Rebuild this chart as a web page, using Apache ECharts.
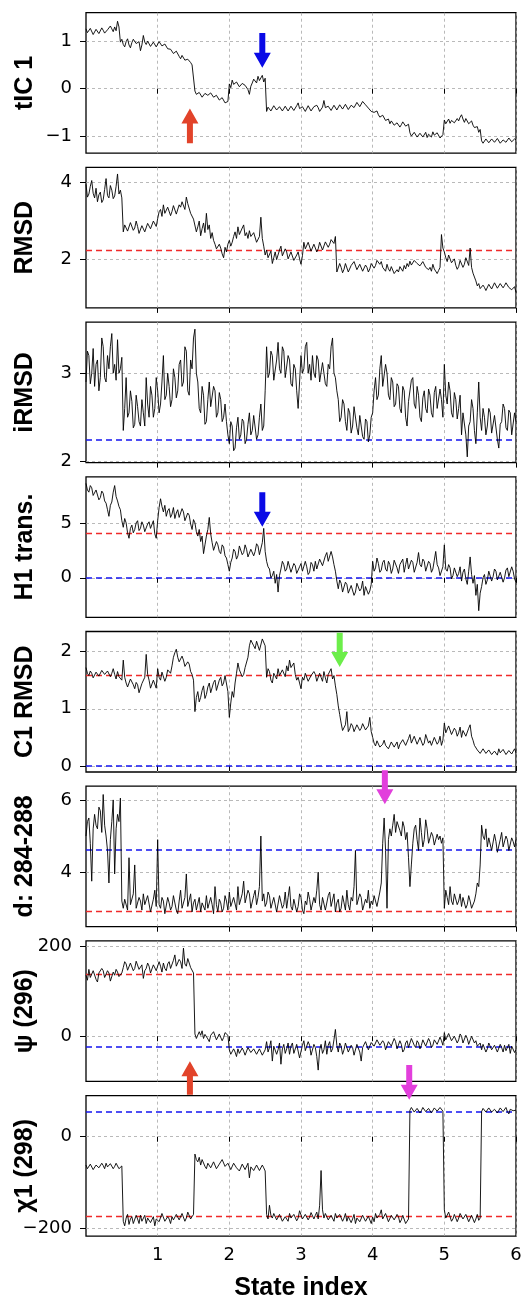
<!DOCTYPE html>
<html><head><meta charset="utf-8">
<script src="https://cdn.jsdelivr.net/npm/echarts@6/dist/echarts.min.js"></script>
<style>html,body{margin:0;padding:0;background:#fff}#c{width:523px;height:1304px}</style>
</head><body><div id="c"></div>
<script>
// ---- data (sampled every 0.02 state-index units, x = 0 .. 6) ----
const X_STEP = 0.02;
const xTickValues = [1, 2, 3, 4, 5, 6];
const panelNames = ['tIC 1', 'RMSD', 'iRMSD', 'H1 trans.', 'C1 RMSD', 'd: 284-288', 'ψ (296)', 'χ1 (298)'];
const xAxisTitle = 'State index';

const tic1 = [
 1.26,1.18,1.2,1.27,1.24,1.14,1.17,1.25,1.22,1.16,1.19,1.28,1.23,1.17,1.15,1.24,1.21,1.32,1.26,1.2,
 1.3,1.22,1.42,1.3,0.98,1.04,0.93,0.88,0.99,1.05,0.92,0.86,0.97,1.04,1.03,0.95,0.94,0.99,0.8,0.92,
 1.12,0.98,0.93,1.0,0.97,0.89,0.9,0.98,0.95,0.88,0.92,0.99,0.97,0.9,0.88,0.94,0.92,0.84,0.86,0.83,
 0.8,0.74,0.71,0.79,0.77,0.68,0.63,0.7,0.68,0.6,0.57,0.62,0.6,0.55,0.5,0.54,-0.05,-0.12,-0.15,-0.08,
 -0.12,-0.18,-0.2,-0.1,-0.08,-0.14,-0.16,-0.09,-0.1,-0.18,-0.22,-0.14,-0.15,-0.24,-0.25,-0.19,-0.2,-0.3,-0.33,-0.27,
 0.1,0.02,0.18,0.09,0.06,0.14,0.13,0.04,0.03,0.11,0.15,0.07,0.08,-0.02,-0.12,0.05,0.12,0.2,0.18,0.12,
 0.26,0.17,0.2,0.28,0.14,0.22,-0.48,-0.39,-0.4,-0.47,-0.44,-0.36,-0.37,-0.45,-0.46,-0.38,-0.41,-0.47,-0.43,-0.37,
 -0.4,-0.47,-0.45,-0.37,-0.38,-0.46,-0.43,-0.36,-0.3,-0.42,-0.46,-0.38,-0.41,-0.48,-0.44,-0.36,-0.39,-0.47,-0.45,-0.38,
 -0.42,-0.35,-0.4,-0.48,-0.47,-0.39,-0.25,-0.4,-0.44,-0.37,-0.38,-0.46,-0.43,-0.35,-0.37,-0.45,-0.42,-0.34,-0.35,-0.43,
 -0.4,-0.33,-0.36,-0.44,-0.42,-0.35,-0.34,-0.4,-0.37,-0.29,-0.3,-0.38,-0.35,-0.27,-0.25,-0.34,-0.33,-0.41,-0.4,-0.48,
 -0.45,-0.5,-0.53,-0.47,-0.55,-0.6,-0.62,-0.56,-0.6,-0.67,-0.7,-0.64,-0.74,-0.68,-0.69,-0.77,-0.78,-0.72,-0.75,-0.81,
 -0.76,-0.7,-0.72,-0.79,-0.8,-0.75,-0.93,-1.0,-0.99,-0.92,-0.94,-1.02,-1.01,-0.94,-0.95,-1.02,-0.98,-0.92,-1.03,-0.96,
 -0.96,-1.02,-0.91,-0.98,-1.0,-0.93,-0.96,-1.04,-1.03,-0.97,-0.66,-0.74,-0.7,-0.64,-0.73,-0.67,-0.65,-0.72,-0.7,-0.63,
 -0.68,-0.6,-0.55,-0.64,-0.71,-0.63,-0.66,-0.74,-0.72,-0.68,-0.77,-0.82,-0.85,-0.8,-0.92,-0.86,-1.1,-1.15,-1.12,-1.06,
 -1.08,-1.14,-1.13,-1.06,-1.06,-1.13,-1.12,-1.05,-1.09,-1.15,-1.14,-1.08,-1.07,-1.13,-1.1,-1.04,-1.05,-1.12,-1.11,-1.06,
 -1.08];
const rmsd = [
 3.95,3.62,3.7,3.9,4.05,3.72,3.6,3.85,3.5,3.68,3.75,3.48,3.55,3.82,4.1,3.66,3.6,3.92,3.8,3.58,
 3.65,3.9,4.22,3.7,3.8,3.6,2.72,2.9,2.95,2.74,2.78,2.96,2.97,2.76,2.82,3.0,2.86,2.68,2.7,2.88,
 2.9,2.72,2.76,2.94,2.93,2.8,2.84,3.0,2.98,2.86,3.06,3.24,3.3,3.12,3.42,3.2,3.18,3.36,3.32,3.14,
 3.25,3.4,3.38,3.18,3.2,3.42,3.36,3.5,3.45,3.3,3.62,3.45,3.4,3.2,3.25,3.05,3.1,2.72,2.85,3.0,
 2.62,2.8,2.95,2.7,3.2,2.78,2.9,2.55,2.7,2.5,2.4,2.28,2.25,2.4,2.3,2.15,2.05,2.32,2.2,2.4,
 2.5,2.35,2.45,2.6,2.72,2.55,2.85,2.65,2.6,2.82,2.9,2.62,2.7,2.55,2.75,2.6,2.55,2.7,2.65,2.45,
 2.5,2.6,3.1,2.55,2.35,2.12,2.25,2.05,2.1,2.22,1.9,2.05,2.2,2.0,2.05,2.25,2.35,2.1,2.15,2.28,
 2.2,2.02,2.05,2.2,2.15,1.98,2.0,2.12,2.2,2.02,1.88,2.1,2.45,2.28,2.3,2.45,2.4,2.22,2.25,2.4,
 2.35,2.2,2.28,2.45,2.42,2.25,2.3,2.46,2.48,2.32,2.4,2.52,2.55,2.42,2.6,1.68,1.72,1.9,1.8,1.66,
 1.75,1.9,1.88,1.68,1.7,1.85,1.82,1.95,1.9,1.74,1.78,1.88,1.85,1.7,1.72,1.86,1.8,1.68,1.76,1.9,
 1.9,1.78,1.85,1.98,2.02,1.88,1.95,1.8,1.82,1.7,1.88,1.76,1.7,1.82,1.78,1.64,1.6,1.74,1.68,1.82,
 1.78,1.7,1.85,1.76,1.9,1.82,1.96,1.86,1.88,1.98,2.03,1.9,1.95,1.84,1.85,1.95,1.92,1.8,1.82,1.74,
 1.8,1.7,1.88,1.76,1.75,1.64,1.72,1.8,2.65,2.3,2.2,2.05,1.95,2.12,2.1,1.92,1.9,2.02,1.85,1.75,
 1.82,1.98,1.95,1.8,1.88,2.05,2.0,1.85,2.3,1.8,1.65,1.55,1.45,1.32,1.38,1.25,1.22,1.34,1.28,1.2,
 1.25,1.36,1.32,1.24,1.28,1.4,1.36,1.26,1.3,1.38,1.35,1.27,1.33,1.4,1.38,1.28,1.3,1.22,1.25,1.3,
 1.15];
const irmsd = [
 2.9,3.25,3.2,2.88,3.0,3.28,2.85,3.1,3.15,2.8,2.95,3.4,3.3,2.95,2.9,3.2,3.05,3.3,3.45,3.0,
 3.1,2.92,3.38,3.0,3.05,3.18,2.35,2.6,2.95,2.5,2.55,2.8,2.68,2.38,2.42,2.75,2.62,2.45,2.4,2.7,
 2.55,2.4,2.95,2.65,2.5,2.85,2.75,2.5,2.6,2.95,2.8,2.55,2.65,2.9,3.2,2.7,2.75,3.0,2.85,2.62,
 2.7,3.05,2.95,2.72,2.8,3.1,3.15,2.85,2.9,3.3,3.25,2.8,2.75,3.15,3.05,3.4,3.5,3.0,2.9,2.6,
 2.55,2.85,2.75,2.42,2.45,2.7,2.9,2.62,2.6,2.85,2.8,2.5,2.55,2.78,2.7,2.45,2.5,2.65,2.45,2.3,
 2.2,2.45,2.4,2.12,2.15,2.38,2.5,2.25,2.3,2.48,2.45,2.2,2.25,2.42,2.55,2.3,2.35,2.52,2.5,2.25,
 2.3,2.5,2.65,2.35,2.4,2.8,3.3,2.95,3.0,3.25,3.2,2.92,2.9,3.15,3.35,3.05,3.0,3.3,3.25,2.95,
 2.95,3.2,3.15,2.88,2.85,3.1,3.05,2.8,2.6,2.9,3.2,3.0,3.05,3.3,3.35,3.0,3.1,2.92,3.2,3.0,
 2.95,3.2,3.15,2.9,2.9,3.12,3.1,2.88,2.85,3.1,3.05,3.3,3.4,3.0,2.95,2.8,2.7,2.45,2.5,2.7,
 2.65,2.45,2.35,2.6,2.55,2.32,2.4,2.62,2.6,2.38,2.3,2.52,2.5,2.28,2.25,2.48,2.45,2.22,2.3,2.5,
 2.55,2.8,2.95,2.7,2.75,3.05,3.2,2.85,2.85,3.1,3.0,2.75,2.7,2.95,2.9,2.62,2.65,2.88,2.85,2.6,
 2.55,2.85,2.8,2.5,2.4,2.68,2.7,2.92,2.95,2.65,2.6,2.85,2.75,2.5,2.45,2.72,2.8,2.6,2.55,2.82,
 2.75,2.55,2.5,2.78,2.85,2.6,2.6,2.82,2.7,2.5,3.1,2.75,2.65,2.9,2.8,2.55,2.5,2.78,2.7,2.48,
 2.6,2.75,2.3,2.55,2.55,2.3,2.05,2.4,2.45,2.7,2.6,2.35,2.2,2.55,2.9,2.5,2.35,2.6,2.5,2.3,
 2.4,2.6,2.55,2.32,2.3,2.52,2.5,2.25,2.15,2.42,2.45,2.65,2.6,2.38,2.35,2.58,2.55,2.3,2.3,2.55,
 2.45];
const h1Trans = [
 8.6,8.0,7.8,8.4,8.2,7.5,7.4,8.0,7.9,7.1,7.3,7.9,7.7,7.0,6.8,6.2,5.6,6.6,6.9,7.8,
 8.4,7.4,7.0,6.5,6.2,5.2,4.6,5.4,5.0,4.1,3.6,4.5,4.8,4.1,4.4,5.0,5.2,4.3,4.5,5.1,
 4.8,4.2,4.3,4.9,5.1,4.5,4.6,5.2,4.0,3.6,5.2,6.4,7.2,6.5,6.0,6.6,5.6,6.1,6.3,5.5,
 5.8,6.4,5.4,5.9,6.2,5.5,5.6,6.3,6.0,5.2,5.3,5.9,5.7,4.9,4.4,5.3,5.0,4.2,3.8,4.4,
 3.3,3.8,2.2,3.0,3.8,4.4,5.5,4.0,3.2,2.5,2.6,3.3,3.0,2.4,2.2,3.0,2.8,2.0,1.8,1.2,
 0.6,1.4,1.8,2.6,2.4,1.7,2.0,2.9,2.8,2.1,2.3,3.0,2.6,1.9,1.9,2.6,2.7,2.0,2.4,3.1,
 2.9,2.1,2.2,3.2,4.5,2.4,1.5,1.0,0.8,0.0,0.2,0.6,-0.5,0.3,-1.3,0.2,0.8,1.5,1.2,0.6,
 0.8,1.5,1.4,0.5,0.6,1.3,1.1,0.4,0.3,1.0,1.3,0.6,0.7,1.5,1.0,0.3,0.5,1.4,1.2,0.6,
 1.5,0.8,0.9,1.7,1.8,1.1,1.2,2.0,2.3,1.5,1.4,2.4,1.9,1.2,0.6,-0.3,-1.0,-0.2,-0.5,-1.3,
 -1.2,-0.4,-0.6,-1.4,-1.5,-0.7,-0.8,-1.6,-1.3,-0.5,-0.4,-1.2,-1.0,-0.3,-1.6,-0.8,-0.7,-1.5,-1.2,-0.6,
 1.5,0.6,0.9,1.8,1.3,0.5,0.7,1.4,1.6,0.8,0.6,1.5,1.2,0.4,0.8,1.6,1.7,0.9,0.4,1.2,
 1.1,1.7,0.5,1.2,1.8,0.8,0.9,1.6,1.4,0.5,0.6,1.4,2.3,1.2,1.0,1.7,1.5,0.6,0.7,1.5,
 1.3,0.5,0.8,1.6,2.4,1.2,0.9,0.2,0.3,1.0,3.0,0.8,0.6,1.2,0.9,-0.1,0.2,0.9,1.0,0.1,
 0.4,1.0,-0.3,0.5,0.8,-0.1,-0.6,0.6,1.9,0.3,-0.5,0.2,-1.6,-0.6,-3.0,-1.4,-0.8,0.0,0.3,-0.6,
 -0.2,0.6,0.5,-0.3,0.1,0.8,0.6,-0.2,-0.3,0.5,0.4,-0.4,0.0,0.7,0.9,0.1,0.2,1.0,0.6,-0.1,
 -0.4];
const c1Rmsd = [
 1.72,1.62,1.58,1.66,1.62,1.54,1.55,1.64,1.65,1.57,1.6,1.67,1.68,1.6,1.58,1.66,1.64,1.56,1.62,1.7,
 1.6,1.52,1.65,1.56,1.58,1.5,1.85,1.55,1.45,1.38,1.4,1.52,1.5,1.42,1.35,1.46,1.42,1.28,1.3,1.44,
 1.45,1.55,1.95,1.6,1.5,1.36,1.38,1.5,1.48,1.36,1.7,1.55,1.5,1.64,1.62,1.48,1.55,1.68,1.7,1.62,
 1.75,1.9,1.98,2.04,1.9,1.82,1.8,1.92,1.85,1.74,1.72,1.82,1.78,1.65,1.6,1.5,0.95,1.2,1.3,1.12,
 1.2,1.32,1.4,1.18,1.25,1.38,1.45,1.28,1.3,1.46,1.5,1.32,1.35,1.5,1.55,1.4,1.45,1.58,1.6,1.3,
 0.85,1.1,1.3,1.2,1.45,1.62,1.8,1.68,1.7,1.56,1.6,1.72,1.75,1.9,2.1,2.2,2.2,2.1,2.05,2.18,
 2.15,2.02,2.05,2.22,2.2,2.1,1.55,1.7,1.65,1.5,1.45,1.62,1.6,1.52,1.7,1.58,1.55,1.68,1.65,1.56,
 1.75,1.66,1.85,1.72,1.7,1.8,1.6,1.5,1.55,1.45,1.35,1.55,1.5,1.62,1.6,1.48,1.45,1.58,1.55,1.65,
 1.6,1.48,1.5,1.62,1.55,1.48,1.65,1.54,1.45,1.6,1.62,1.7,1.52,1.58,1.4,1.25,1.05,0.9,0.75,0.62,
 0.6,0.72,0.95,0.6,0.65,0.74,0.7,0.6,0.62,0.72,0.7,0.62,0.66,0.74,0.72,0.63,0.62,0.7,0.85,0.6,
 0.5,0.4,0.35,0.44,0.42,0.33,0.3,0.38,0.45,0.36,0.38,0.3,0.32,0.42,0.4,0.33,0.35,0.42,0.3,0.38,
 0.38,0.46,0.45,0.36,0.35,0.48,0.55,0.4,0.42,0.52,0.5,0.38,0.36,0.5,0.48,0.36,0.4,0.55,0.52,0.4,
 0.44,0.36,0.38,0.5,0.5,0.38,0.42,0.52,0.36,0.45,0.75,0.58,0.6,0.7,0.68,0.55,0.55,0.66,0.62,0.52,
 0.58,0.68,0.5,0.62,0.65,0.52,0.55,0.66,0.72,0.52,0.45,0.36,0.35,0.28,0.28,0.22,0.25,0.3,0.3,0.22,
 0.22,0.28,0.27,0.2,0.2,0.26,0.25,0.19,0.3,0.23,0.22,0.29,0.26,0.2,0.2,0.27,0.28,0.21,0.24,0.3,
 0.23];
const d284288 = [
 5.0,5.4,5.5,4.8,3.75,5.2,5.6,5.3,5.2,5.8,5.7,5.1,6.15,5.3,5.0,4.6,3.7,4.9,5.4,6.0,
 3.95,5.2,5.6,5.4,6.05,3.2,3.0,3.25,3.3,2.95,4.4,3.1,3.1,3.4,4.2,3.0,3.0,3.3,3.2,2.95,
 3.4,3.1,3.05,3.35,3.3,2.9,2.95,3.25,3.5,3.05,4.9,3.1,3.0,3.3,3.2,2.85,2.9,3.3,3.15,2.95,
 3.05,3.35,3.3,2.95,2.85,3.2,3.5,3.0,3.0,3.3,3.95,3.05,3.1,3.4,2.9,3.15,3.25,2.95,3.0,3.3,
 2.9,3.15,3.2,2.95,3.35,3.0,2.95,3.3,3.1,2.85,3.6,3.1,2.9,3.25,3.15,2.9,3.0,3.35,3.2,2.95,
 3.45,3.05,3.0,3.3,3.25,2.95,3.6,3.1,3.1,3.4,3.75,3.15,3.2,3.5,3.4,3.0,3.05,3.35,3.5,3.1,
 3.3,3.6,5.0,3.2,3.4,3.05,3.15,3.45,3.35,3.0,3.0,3.3,3.25,2.9,2.95,3.35,3.3,3.0,3.1,3.45,
 3.0,3.3,3.6,3.05,2.95,3.25,3.2,2.9,3.05,3.4,3.3,2.95,2.85,3.2,3.1,3.45,3.25,2.95,3.0,3.3,
 3.15,3.5,4.0,3.1,2.95,3.3,3.3,2.95,3.0,3.35,3.45,3.05,3.1,3.4,2.9,3.15,3.25,2.9,3.0,3.35,
 3.15,2.95,3.5,3.1,2.95,3.3,3.2,3.6,4.6,3.1,3.05,3.4,3.3,2.95,2.9,3.25,3.15,3.5,3.0,3.2,
 3.1,3.35,3.4,3.05,3.0,3.45,3.7,4.8,5.5,4.6,3.0,4.9,5.2,5.0,5.3,5.6,5.1,5.4,5.4,5.15,
 5.0,5.4,5.25,4.9,5.1,4.4,3.6,4.2,4.8,5.2,5.3,4.9,4.6,5.5,5.1,4.7,4.9,5.45,5.2,4.8,
 4.85,5.1,5.0,4.75,4.7,5.05,4.9,5.0,4.8,4.95,3.0,3.5,3.3,3.1,3.6,3.2,3.1,3.4,3.35,3.1,
 3.2,3.4,3.05,3.3,3.3,3.0,3.1,3.35,3.2,3.0,3.0,3.2,3.4,3.7,3.6,4.2,5.3,5.0,4.9,5.2,
 4.7,4.95,5.0,4.6,4.6,5.05,4.85,4.55,4.5,4.9,5.1,4.7,4.75,5.0,4.9,4.6,4.65,4.95,4.85,4.7,
 4.9];
const psi296 = [
 135,124,148,130,128,145,142,126,120,140,138,150,145,130,130,145,140,122,125,142,
 135,148,142,132,130,140,152,165,160,146,148,162,158,145,150,166,162,148,145,158,
 128,145,150,162,155,140,142,158,160,145,148,165,155,142,162,150,145,160,165,150,
 152,168,180,155,158,170,165,150,195,160,155,172,168,152,150,140,5,-5,-8,10,
 2,12,-5,4,8,-6,-12,2,0,10,6,-8,-8,5,3,-10,-3,8,10,2,
 -30,-40,-42,-28,-35,-45,-28,-38,-40,-26,-33,-42,-38,-25,-25,-36,-36,-28,-30,-40,
 -38,-28,-32,-42,-40,-30,-12,-35,-25,-10,-55,-22,-20,-40,-30,-15,-62,-28,-18,-38,
 -28,-15,-40,-22,-15,-38,-35,-18,-22,-48,-45,-20,-10,-32,-30,-12,-20,-42,-38,-18,
 -25,-45,-75,-30,-18,-38,-30,-10,-40,-20,-12,-35,-28,-8,15,-20,-35,-15,-22,-40,
 -30,-15,-18,-35,-38,-20,-25,-42,-45,-18,-20,-35,-55,-25,-28,-12,-15,-30,-32,-14,
 -10,-22,-25,-8,-5,-20,-22,-10,-15,-30,-28,-12,-8,-22,-20,-5,-12,-28,-25,-10,
 -18,-35,-30,-15,-10,-25,-22,-5,-5,-20,-25,-10,-15,-28,-20,-8,-8,-22,-18,-5,
 -12,-25,-20,-8,-5,-18,-15,-2,-10,-20,8,-8,-5,6,2,-10,-12,0,-3,-15,
 -8,5,0,-15,-12,2,-5,-18,-15,0,-2,-15,-10,-22,-25,-15,-30,-18,-20,-35,
 -28,-15,-18,-30,-32,-20,-22,-35,-35,-18,-25,-35,-20,-32,-30,-18,-38,-22,-24,-36,
 -30];
const chi298 = [
 -62,-70,-68,-60,-64,-72,-70,-62,-60,-68,-66,-58,-63,-70,-58,-66,-67,-59,-62,-70,
 -65,-58,-60,-70,-68,-64,-185,-195,-178,-170,-192,-180,-175,-190,-188,-172,-180,-190,-172,-185,
 -182,-172,-190,-178,-176,-188,-185,-175,-195,-180,-178,-186,-183,-168,-170,-185,-188,-175,-180,-190,
 -175,-182,-185,-170,-168,-182,-180,-168,-172,-185,-178,-165,-165,-180,-175,-170,-38,-50,-55,-45,
 -62,-50,-48,-65,-70,-58,-55,-68,-66,-55,-58,-70,-72,-60,-60,-50,-52,-65,-68,-58,
 -60,-72,-70,-58,-58,-68,-65,-75,-72,-60,-62,-72,-68,-58,-90,-66,-64,-74,-70,-62,
 -66,-74,-72,-62,-68,-75,-170,-180,-150,-172,-178,-168,-165,-182,-180,-170,-172,-185,-185,-175,
 -175,-185,-168,-178,-182,-170,-172,-184,-178,-162,-165,-180,-180,-170,-170,-182,-176,-166,-168,-180,
 -172,-165,-180,-150,-74,-160,-178,-168,-170,-182,-182,-172,-175,-185,-168,-178,-180,-170,-172,-185,
 -178,-168,-185,-175,-172,-188,-180,-170,-190,-178,-175,-186,-182,-172,-170,-185,-185,-174,-178,-190,
 -176,-186,-168,-178,-182,-170,-160,-180,-178,-168,-172,-186,-185,-172,-170,-182,-180,-170,-175,-188,
 -182,-172,-176,-190,-188,-180,58,64,62,54,55,62,60,52,57,64,63,55,56,62,
 60,52,55,63,62,56,58,64,61,56,-160,-178,-175,-165,-168,-185,-180,-170,-172,-186,
 -178,-168,-165,-180,-182,-170,-170,-186,-185,-172,-175,-188,-180,-170,-183,-178,55,62,60,54,
 57,63,62,54,54,60,59,52,56,63,61,55,58,64,55,50,60,64,57,53,
 58];

const seriesValues = [tic1, rmsd, irmsd, h1Trans, c1Rmsd, d284288, psi296, chi298];
const yTickValues = [[-1,0,1],[2,4],[2,3],[0,5],[0,1,2],[4,6],[0,200],[-200,0]];
const redRefValues = [null, 2.25, null, 4.1, 1.586, 2.93, 137.8, -173];
const blueRefValues = [null, null, 2.24, 0, 0, 4.61, -24.4, 55.2];

// annotation arrows (data units of the panel they are attached to)
const arrowDefs = [
  {panel:0, x:1.45, from:-1.15, to:-0.42, color:'#e2432a'},
  {panel:0, x:2.46, from:1.17, to:0.44, color:'#0a0ae6'},
  {panel:3, x:2.46, from:7.8, to:4.66, color:'#0a0ae6'},
  {panel:4, x:3.54, from:2.33, to:1.73, color:'#6cee4a'},
  {panel:5, x:4.17, from:6.82, to:5.88, color:'#e23fdc'},
  {panel:6, x:1.45, from:-129.6, to:-55.6, color:'#e2432a'},
  {panel:7, x:4.51, from:157, to:80.8, color:'#e23fdc'}
];

// ---- layout / styles ----
const yRanges = [[-1.36,1.6],[0.75,4.39],[1.985,3.58],[-3.6,9.2],[-0.105,2.35],[2.49,6.38],[-100,211],[-217.5,90]];
const gridTops = [12.7,167.4,322.1,476.8,631.5,786.2,940.9,1095.6];
const GRID_H = 140.5, GRID_LEFT = 86, GRID_RIGHT = 7;
const tickFont = 'DejaVu Sans';
const nameFont = 'Liberation Sans';
const fmt = v => String(v).replace('-', '\u2212');

const grids = [], xAxes = [], yAxes = [], series = [];
for (let k = 0; k < 8; k++) {
  grids.push({left: GRID_LEFT, right: GRID_RIGHT, top: gridTops[k], height: GRID_H,
    show: true, borderColor: '#000', borderWidth: 1.3, containLabel: false, outerBoundsMode: 'none'});
  const last = k === 7;
  xAxes.push({type: 'value', gridIndex: k, min: 0, max: 6,
    axisLine: {show: false},
    axisTick: {show: true, inside: false, length: 5, customValues: xTickValues, lineStyle: {color: '#000', width: 1}},
    axisLabel: {show: last, customValues: xTickValues, fontSize: 18, fontFamily: tickFont, color: '#000', margin: 10, formatter: fmt},
    splitLine: {show: true, lineStyle: {color: '#a8a8a8', width: 0.8, type: [3, 3]}},
    name: last ? xAxisTitle : '', nameLocation: 'middle', nameGap: 40, nameMoveOverlap: false,
    nameTextStyle: {fontSize: 25, fontWeight: 'bold', fontFamily: nameFont, color: '#000'}});
  yAxes.push({type: 'value', gridIndex: k, min: yRanges[k][0], max: yRanges[k][1],
    axisLine: {show: false},
    axisTick: {show: true, inside: false, length: 6, customValues: yTickValues[k], lineStyle: {color: '#000', width: 1}},
    axisLabel: {show: true, customValues: yTickValues[k], fontSize: 18, fontFamily: tickFont, color: '#000', margin: 14, formatter: fmt},
    splitLine: {show: true, lineStyle: {color: '#a8a8a8', width: 0.8, type: [3, 3]}},
    name: panelNames[k], nameLocation: 'middle', nameGap: 48, nameMoveOverlap: false,
    nameTextStyle: {fontSize: 25, fontWeight: 'bold', fontFamily: nameFont, color: '#000'}});
  const refLines = [];
  if (redRefValues[k] !== null) refLines.push({yAxis: redRefValues[k], lineStyle: {color: '#f02a2a', width: 1.4, type: [6, 4]}});
  if (blueRefValues[k] !== null) refLines.push({yAxis: blueRefValues[k], lineStyle: {color: '#1414f0', width: 1.6, type: [6, 4]}});
  series.push({type: 'line', xAxisIndex: k, yAxisIndex: k,
    data: seriesValues[k].map((v, i) => [i * X_STEP, v]),
    showSymbol: false, symbol: 'none', lineStyle: {color: '#000', width: 0.9}, z: 3,
    markLine: {silent: true, symbol: 'none', label: {show: false}, animation: false, data: refLines, z: 2}});
}

const chart = echarts.init(document.getElementById('c'), null, {renderer: 'canvas'});
chart.setOption({animation: false, backgroundColor: '#fff', grid: grids, xAxis: xAxes, yAxis: yAxes, series: series});

// arrows positioned through the panel scales
const SHAFT = 3, HEAD_W = 8.5, HEAD_L = 15;
const graphics = arrowDefs.map(a => {
  const p0 = chart.convertToPixel({gridIndex: a.panel}, [a.x, a.from]);
  const p1 = chart.convertToPixel({gridIndex: a.panel}, [a.x, a.to]);
  const x = p0[0], y0 = p0[1], y1 = p1[1];
  const d = y1 > y0 ? 1 : -1;
  const yh = y1 - d * HEAD_L;
  return {type: 'polygon', z: 100, silent: true,
    shape: {points: [[x - SHAFT, y0], [x - SHAFT, yh], [x - HEAD_W, yh], [x, y1], [x + HEAD_W, yh], [x + SHAFT, yh], [x + SHAFT, y0]]},
    style: {fill: a.color}};
});
chart.setOption({graphic: graphics});
</script>
</body></html>
